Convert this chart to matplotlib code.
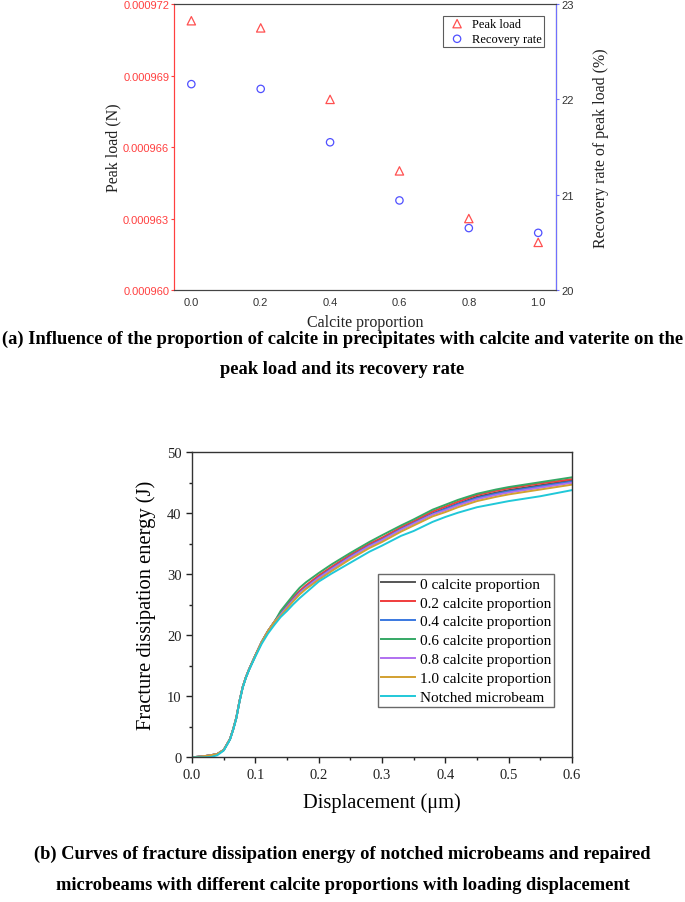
import matplotlib
matplotlib.use('Agg')
import matplotlib.pyplot as plt
from matplotlib.ticker import MultipleLocator, FormatStrFormatter

# (a) peak load and recovery rate vs calcite proportion
calcite = [0.0, 0.2, 0.4, 0.6, 0.8, 1.0]
peak_load = [0.0009713, 0.0009710, 0.0009680, 0.0009650, 0.0009630, 0.0009620]
recovery_rate = [22.16, 22.11, 21.55, 20.94, 20.65, 20.60]

# (b) fracture dissipation energy vs displacement
disp = [0.0, 0.01, 0.02, 0.03, 0.04, 0.05, 0.06, 0.065, 0.07, 0.075, 0.08, 0.085,
        0.09, 0.10, 0.11, 0.12, 0.13,
        0.14, 0.15, 0.16, 0.17, 0.18, 0.20, 0.22, 0.25, 0.28, 0.30, 0.33, 0.35,
        0.38, 0.40, 0.42, 0.45, 0.48, 0.50, 0.55, 0.60]
start = [0.0, 0.1, 0.2, 0.35, 0.55, 1.2, 3.0, 4.6, 6.5, 9.2, 11.5, 13.1, 14.4,
         16.7, 18.9, 20.7, 22.2]
e_0 = start + [23.6, 24.8, 26.0, 27.1, 28.0, 29.6, 31.0, 33.0, 34.8, 35.8, 37.5, 38.5,
               40.0, 40.8, 41.6, 42.7, 43.4, 43.8, 44.6, 45.4]
e_02 = start + [23.7, 24.9, 26.2, 27.3, 28.2, 29.8, 31.2, 33.2, 35.0, 36.0, 37.7, 38.7,
                40.3, 41.1, 41.9, 43.0, 43.7, 44.1, 44.9, 45.6]
e_04 = start + [23.5, 24.7, 25.9, 27.0, 27.9, 29.5, 30.9, 32.9, 34.7, 35.7, 37.4, 38.4,
                39.9, 40.7, 41.5, 42.5, 43.2, 43.6, 44.4, 45.2]
e_06 = start + [24.0, 25.3, 26.6, 27.8, 28.7, 30.2, 31.6, 33.5, 35.3, 36.4, 38.0, 39.0,
                40.6, 41.4, 42.2, 43.2, 43.9, 44.3, 45.1, 45.9]
e_08 = start + [23.4, 24.6, 25.8, 26.9, 27.8, 29.4, 30.8, 32.8, 34.6, 35.6, 37.3, 38.3,
                39.8, 40.5, 41.3, 42.3, 43.0, 43.4, 44.2, 45.0]
e_10 = start + [23.2, 24.4, 25.6, 26.7, 27.6, 29.1, 30.5, 32.5, 34.3, 35.3, 37.0, 38.0,
                39.5, 40.2, 41.0, 42.0, 42.7, 43.1, 43.9, 44.7]
e_notched = [0.0, 0.0, 0.0, 0.05, 0.35, 1.1, 2.9, 4.5, 6.4, 9.1, 11.4, 13.0, 14.3,
             16.5, 18.6, 20.3, 21.7,
             23.0, 24.0, 25.1, 26.1, 27.0, 28.8, 30.1, 31.9, 33.7, 34.7, 36.3, 37.1,
             38.6, 39.4, 40.1, 41.0, 41.6, 42.0, 42.8, 43.8]

curve_labels = ['0 calcite proportion', '0.2 calcite proportion', '0.4 calcite proportion',
                '0.6 calcite proportion', '0.8 calcite proportion', '1.0 calcite proportion',
                'Notched microbeam']
curve_colors = ['#555555', '#f03c3c', '#3a78e0', '#35a865', '#b070f0', '#d2a030', '#20c8d8']

serif = 'Liberation Serif'
sans = 'Liberation Sans'

fig = plt.figure(figsize=(6.85, 9.03), dpi=100)

# ---- top chart ----
ax1 = fig.add_axes([0.254, 0.6777, 0.557, 0.3167])
ax2 = ax1.twinx()
ax1.scatter(calcite, peak_load, marker='^', s=36, facecolors='none',
            edgecolors='#ff5050', linewidths=0.9, label='Peak load', zorder=3)
ax2.scatter(calcite, recovery_rate, marker='o', s=28, facecolors='none',
            edgecolors='#5050ff', linewidths=0.9, label='Recovery rate', zorder=3)

ax1.set_xlim(-0.05, 1.05)
ax1.set_ylim(0.000960, 0.000972)
ax1.yaxis.set_major_locator(MultipleLocator(0.000003))
ax1.yaxis.set_major_formatter(FormatStrFormatter('%.6f'))
ax1.set_xticks(calcite)
ax1.xaxis.set_major_formatter(FormatStrFormatter('%.1f'))
ax2.set_ylim(20, 23)
ax2.set_yticks([20, 21, 22, 23])

ax1.spines['left'].set_color('#ff4040')
ax2.spines['left'].set_color('#ff4040')
ax2.spines['right'].set_color('#7070ff')
for a in (ax1, ax2):
    a.spines['top'].set_color('#444444')
    a.spines['bottom'].set_color('#444444')
ax1.tick_params(axis='y', colors='#ff4040', labelsize=8, length=2, width=0.8, pad=1.5)
ax2.tick_params(axis='y', colors='#7070ff', labelcolor='#333333', labelsize=8,
                length=2, width=0.8, pad=2)
ax1.tick_params(axis='x', colors='#444444', labelcolor='#333333', labelsize=8, length=0, pad=5)
for lbl in ax1.get_xticklabels() + ax1.get_yticklabels() + ax2.get_yticklabels():
    lbl.set_family(sans)

ax1.set_xlabel('Calcite proportion', family=serif, fontsize=11.5, color='#222222', labelpad=5)
ax1.set_ylabel('Peak load (N)', family=serif, fontsize=11.5, color='#222222', labelpad=1)
ax2.set_ylabel('Recovery rate of peak load (%)', family=serif, fontsize=11.5,
               color='#222222', labelpad=14)

h1, l1 = ax1.get_legend_handles_labels()
h2, l2 = ax2.get_legend_handles_labels()
leg1 = ax2.legend(h1 + h2, l1 + l2, loc='upper right', bbox_to_anchor=(0.969, 0.958),
                  prop={'family': serif, 'size': 9}, frameon=True, fancybox=False,
                  edgecolor='#333333', borderpad=0.15, handletextpad=0.2,
                  borderaxespad=0, labelspacing=0.25)
leg1.get_frame().set_linewidth(0.8)

fig.text(0.5, 0.6246, '(a) Influence of the proportion of calcite in precipitates with calcite and vaterite on the',
         ha='center', va='center', family=serif, fontsize=13.3, fontweight='bold')
fig.text(0.5, 0.5903, 'peak load and its recovery rate',
         ha='center', va='center', family=serif, fontsize=13.3, fontweight='bold')

# ---- bottom chart ----
ax3 = fig.add_axes([0.2803, 0.1602, 0.5547, 0.3378])
series = [e_0, e_02, e_04, e_06, e_08, e_10, e_notched]
for vals, lab, col in zip(series, curve_labels, curve_colors):
    ax3.plot(disp, vals, color=col, lw=1.4, label=lab)

ax3.set_xlim(0, 0.6)
ax3.set_ylim(0, 50)
ax3.xaxis.set_major_locator(MultipleLocator(0.1))
ax3.xaxis.set_minor_locator(MultipleLocator(0.05))
ax3.yaxis.set_major_locator(MultipleLocator(10))
ax3.yaxis.set_minor_locator(MultipleLocator(5))
ax3.xaxis.set_major_formatter(FormatStrFormatter('%.1f'))
ax3.tick_params(which='major', length=4, width=1, labelsize=10.5, colors='#222222')
ax3.tick_params(which='minor', length=2.5, width=1, colors='#222222')
for lbl in ax3.get_xticklabels() + ax3.get_yticklabels():
    lbl.set_family(serif)
for sp in ax3.spines.values():
    sp.set_color('#333333')
    sp.set_linewidth(1.0)

ax3.set_xlabel('Displacement (\u03bcm)', family=serif, fontsize=14.8, labelpad=8)
ax3.set_ylabel('Fracture dissipation energy (J)', family=serif, fontsize=14.8, labelpad=8)

leg2 = ax3.legend(loc='lower right', bbox_to_anchor=(0.953, 0.165), prop={'family': serif, 'size': 11},
                  frameon=True, fancybox=False, edgecolor='#444444', borderpad=0.2,
                  handlelength=2.2, handletextpad=0.3, labelspacing=0.34, borderaxespad=0)
leg2.get_frame().set_linewidth(1.0)

fig.text(0.5, 0.0540, '(b) Curves of fracture dissipation energy of notched microbeams and repaired',
         ha='center', va='center', family=serif, fontsize=13.3, fontweight='bold')
fig.text(0.5, 0.0190, 'microbeams with different calcite proportions with loading displacement',
         ha='center', va='center', family=serif, fontsize=13.3, fontweight='bold')

fig.savefig('out.png', dpi=100)
